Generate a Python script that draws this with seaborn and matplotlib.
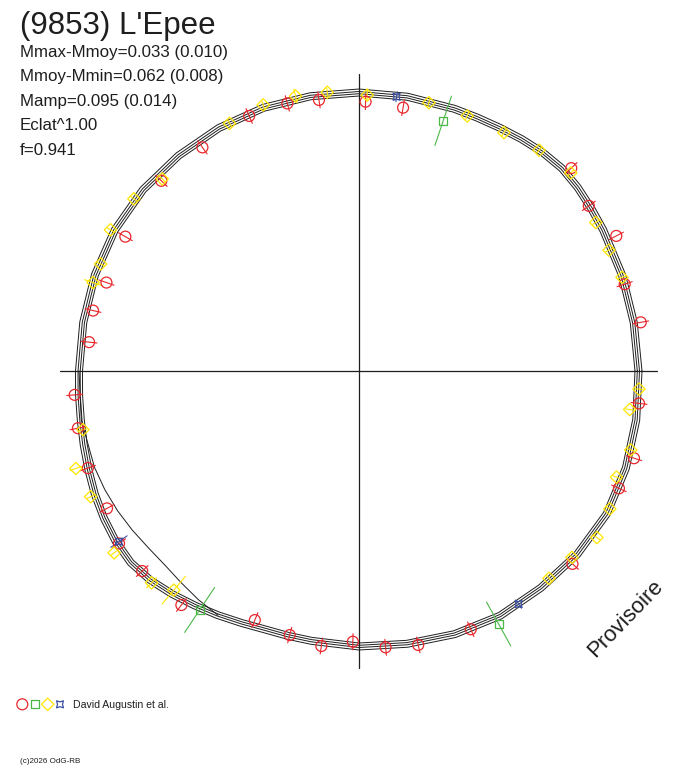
"""
(9853) L'Epee - courbe de lumiere en coordonnees polaires
"""

import numpy as np
import pandas as pd
import matplotlib
matplotlib.use('Agg')
import matplotlib.pyplot as plt
import seaborn as sns

sns.set_theme(style='white')
plt.rcParams['font.family'] = ['Liberation Sans', 'DejaVu Sans']

# ============================================================================
# Donnees (angle de phase en degres, rayon)
# ============================================================================
ring_theta = [0, 10, 20, 30, 35, 40, 45, 50, 55, 60, 65, 70, 80, 90,
              100, 110, 120, 130, 140, 150, 160, 170, 180, 185, 190, 195,
              200, 205, 210, 215, 220, 225, 230, 235, 240, 245, 250, 255,
              260, 270, 280, 290, 300, 310, 320, 330, 340, 350]
ring_r = [279.5, 279, 280, 282, 283.5, 285.5, 286.8, 285.5, 283.2, 281, 279.6, 279, 278.5, 278.5,
          279, 280, 280.5, 281, 282, 282, 281, 280, 280, 281, 282.5, 285,
          288, 291.5, 294.5, 297, 298, 295.5, 291, 286.3, 282, 278, 275, 274.2,
          274, 275.5, 277, 280, 282.5, 283, 285, 286, 284, 281.5]
strand_offsets = [-3.5, -1.2, 1.0, 3.5]

outlier_theta = [180, 190, 200, 205, 210, 215, 220, 225, 230, 235, 240]
outlier_r = [280, 282, 281.5, 280.5, 279, 277, 275, 274.5, 276.5, 279.5, 282]

red_theta = [88.6, 80.5, 98.4, 105.0, 113.3, 125.0, 136.1, 150.1, 160.7, 167.2,
             173.9, 184.8, 191.5, 199.7, 208.6, 215.7, 222.7, 232.8, 247.3, 255.3,
             262.2, 268.7, 275.5, 282.2, 293.4, 317.9, 335.7, 342.4, 353.4, 9.8,
             18.1, 27.7, 35.7, 43.7]
red_r = [269.4, 267, 274, 277, 277.7, 273, 274.3, 269.5, 267.6, 272.7,
         271.5, 285.3, 286.8, 288, 287, 295.5, 295, 293.8, 270, 273,
         277.6, 270.8, 277.6, 280.3, 281.4, 287.7, 285.2, 288.5, 281.9, 285.9,
         279.5, 290.6, 283, 293.6]
red_err = 8

yellow_theta = [117.6, 109.8, 103.0, 96.5, 88.3, 75.4, 67.0, 58.7, 50.8, 43.1,
                32.1, 25.8, 19.6, 356.3, 351.9, 343.8, 337.6, 331.2, 325.0, 318.8,
                312.5, 192.0, 199.0, 205.1, 216.6, 225.6, 229.8, 135.7, 142.6, 150.4,
                157.5, 161.6]
yellow_r = [279.4, 282.8, 282.2, 280.5, 276, 277.2, 277, 279, 285, 290,
            279.5, 277.7, 279.2, 280.6, 273.4, 283, 278.5, 286.2, 290.4, 283,
            281.2, 282.2, 299.5, 296.3, 305, 296.5, 286.9, 275, 283.4, 285.8,
            279.6, 280.3]
yellow_err = [4, 4, 7, 4, 5, 4, 4, 4, 4, 4,
              4, 4, 4, 4, 4, 4, 4, 4, 4, 4,
              4, 4, 6, 4, 4, 7, 18, 5, 4, 4,
              4, 9]

green_theta = [71.4, 236.3, 298.9]
green_r = [264, 287.2, 289]
green_err = [26, 27, 25]

blue_theta = [82.2, 215.4, 304.4]
blue_r = [276.8, 294.5, 282.5]
blue_err = [5, 10, 5]

titre = "(9853) L'Epee"
stats_lines = ['Mmax-Mmoy=0.033 (0.010)',
               'Mmoy-Mmin=0.062 (0.008)',
               'Mamp=0.095 (0.014)',
               'Eclat^1.00',
               'f=0.941']
auteurs = 'David Augustin et al.'

RED = '#e8262c'
GREEN = '#4cb848'
YELLOW = '#ffe600'
BLUE = '#3a4fa0'
INK = '#1e1e1e'

CX, CY = 359, 371   # centre du graphe en pixels


def px(x, y):
    """pixel image -> coordonnees du graphe"""
    return x - CX, CY - y


def polar_df(theta, r):
    t = np.radians(np.asarray(theta, dtype=float))
    r = np.asarray(r, dtype=float)
    return pd.DataFrame({'x': r * np.cos(t), 'y': r * np.sin(t)})


def error_df(theta, r, err):
    err = np.broadcast_to(np.asarray(err, dtype=float), np.shape(theta))
    rows = []
    for i, (t, rr, e) in enumerate(zip(theta, r, err)):
        a = np.radians(t)
        for k in (-1, 1):
            rows.append({'seg': i, 'x': (rr + k * e) * np.cos(a),
                         'y': (rr + k * e) * np.sin(a)})
    return pd.DataFrame(rows)


fig = plt.figure(figsize=(6.88, 7.68), dpi=100)
ax = fig.add_axes([0, 0, 1, 1])
ax.set_xlim(-CX, 688 - CX)
ax.set_ylim(CY - 768, CY)
ax.axis('off')

# axes du repere
ax.plot([0, 0], [-297, 297], color=INK, lw=0.9)
ax.plot([-299, 298], [0, 0], color=INK, lw=0.9)

# courbes ajustees (faisceau)
strands = []
for k, off in enumerate(strand_offsets):
    d = polar_df(ring_theta + ring_theta[:1], [v + off for v in ring_r + ring_r[:1]])
    d['strand'] = k
    strands.append(d)
strands = pd.concat(strands, ignore_index=True)
sns.lineplot(data=strands, x='x', y='y', units='strand', estimator=None,
             sort=False, color=INK, lw=0.7, ax=ax)

sns.lineplot(data=polar_df(outlier_theta, outlier_r), x='x', y='y',
             sort=False, estimator=None, color=INK, lw=0.7, ax=ax)

# barres d'erreur radiales
for th, rr, ee, col in [(red_theta, red_r, red_err, RED),
                        (yellow_theta, yellow_r, yellow_err, YELLOW),
                        (green_theta, green_r, green_err, GREEN),
                        (blue_theta, blue_r, blue_err, BLUE)]:
    sns.lineplot(data=error_df(th, rr, ee), x='x', y='y', units='seg',
                 estimator=None, sort=False, color=col, lw=0.8, ax=ax)

# points de mesure
sns.scatterplot(data=polar_df(red_theta, red_r), x='x', y='y', marker='o', s=62,
                facecolor='none', edgecolor=RED, linewidth=0.9, ax=ax, zorder=4)
sns.scatterplot(data=polar_df(yellow_theta, yellow_r), x='x', y='y', marker='D', s=40,
                facecolor='none', edgecolor=YELLOW, linewidth=0.9, ax=ax, zorder=4)
sns.scatterplot(data=polar_df(green_theta, green_r), x='x', y='y', marker='s', s=32,
                facecolor='none', edgecolor=GREEN, linewidth=0.9, ax=ax, zorder=4)
sns.scatterplot(data=polar_df(blue_theta, blue_r), x='x', y='y', marker=(4, 1, 45), s=50,
                facecolor='none', edgecolor=BLUE, linewidth=0.9, ax=ax, zorder=4)

# textes
ax.text(*px(20, 34), titre, fontsize=22.5, color=INK, va='baseline', ha='left')
for i, line in enumerate(stats_lines):
    ax.text(*px(20, 57 + i * 24.5), line, fontsize=12.2, color=INK,
            va='baseline', ha='left')

ax.text(*px(625, 619), 'Provisoire', fontsize=16, color=INK, rotation=46,
        ha='center', va='center', rotation_mode='anchor')

# legende
for xk, mk, col, sz in [(22.3, 'o', RED, 62), (35, 's', GREEN, 32),
                        (47.7, 'D', YELLOW, 40), (60, (4, 1, 45), BLUE, 50)]:
    ax.scatter(*px(xk, 704.3), marker=mk, s=sz, facecolor='none',
               edgecolor=col, linewidth=0.9)
ax.text(*px(73, 704.5), auteurs, fontsize=7.6, color=INK, va='center', ha='left')
ax.text(*px(20, 763), '(c)2026 OdG-RB', fontsize=5.8, color=INK,
        va='baseline', ha='left')

plt.savefig('out.png', dpi=100)
plt.close()
